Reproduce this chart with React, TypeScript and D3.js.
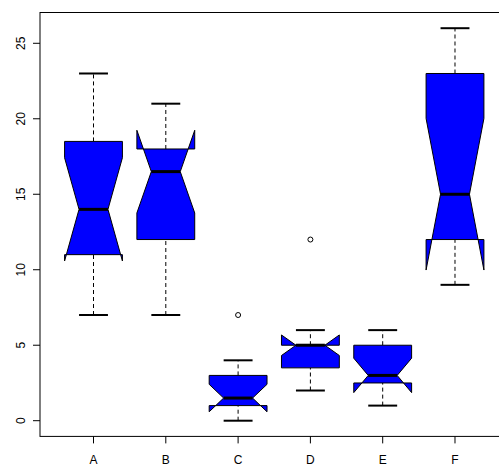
import { useEffect, useRef } from 'react';
import * as d3 from 'd3';

// Box statistics (InsectSprays-style counts)
const categories = ['A', 'B', 'C', 'D', 'E', 'F'];
const whiskerLow = [7, 7, 0, 2, 1, 9];
const q1 = [11, 12, 1, 3.5, 2.5, 12];
const median = [14, 16.5, 1.5, 5, 3, 15];
const q3 = [18.5, 18, 3, 5, 5, 23];
const whiskerHigh = [23, 21, 4, 6, 6, 26];
const notchLow = [10.58, 13.76, 0.59, 4.32, 1.86, 9.98];
const notchHigh = [17.42, 19.24, 2.41, 5.68, 4.14, 20.02];
const outliers = [
    { group: 'C', value: 7 },
    { group: 'D', value: 12 },
];
const yTicks = [0, 5, 10, 15, 20, 25];

export default function App() {
    const ref = useRef<SVGSVGElement>(null);

    useEffect(() => {
        if (!ref.current) return;
        const svg = d3.select(ref.current);
        svg.selectAll('*').remove();

        const left = 40;
        const right = 508.5;
        const top = 12.5;
        const bottom = 436.4;

        const x = d3.scaleLinear().domain([0.26, 6.74]).range([left, right]);
        const y = d3.scaleLinear().domain([-1.04, 27.04]).range([bottom, top]);
        const unit = x(1) - x(0);
        const halfW = (0.8 * unit) / 2;
        const capW = halfW / 2;
        const notchFrac = 0.5;
        const font = 'Liberation Sans, Arial, Helvetica, sans-serif';

        // frame
        svg.append('rect')
            .attr('x', left)
            .attr('y', top)
            .attr('width', right - left)
            .attr('height', bottom - top)
            .attr('fill', 'none')
            .attr('stroke', '#000')
            .attr('stroke-width', 1);

        categories.forEach((cat, i) => {
            const cx = x(i + 1);

            // whiskers
            svg.append('line')
                .attr('x1', cx).attr('x2', cx)
                .attr('y1', y(whiskerLow[i])).attr('y2', y(q1[i]))
                .attr('stroke', '#000').attr('stroke-dasharray', '4,3');
            svg.append('line')
                .attr('x1', cx).attr('x2', cx)
                .attr('y1', y(q3[i])).attr('y2', y(whiskerHigh[i]))
                .attr('stroke', '#000').attr('stroke-dasharray', '4,3');

            // staples
            [whiskerLow[i], whiskerHigh[i]].forEach((v) => {
                svg.append('line')
                    .attr('x1', cx - capW).attr('x2', cx + capW)
                    .attr('y1', y(v)).attr('y2', y(v))
                    .attr('stroke', '#000').attr('stroke-width', 2);
            });

            // notched box
            const pts: [number, number][] = [
                [cx - halfW, y(q1[i])],
                [cx + halfW, y(q1[i])],
                [cx + halfW, y(notchLow[i])],
                [cx + halfW * notchFrac, y(median[i])],
                [cx + halfW, y(notchHigh[i])],
                [cx + halfW, y(q3[i])],
                [cx - halfW, y(q3[i])],
                [cx - halfW, y(notchHigh[i])],
                [cx - halfW * notchFrac, y(median[i])],
                [cx - halfW, y(notchLow[i])],
            ];
            svg.append('path')
                .attr('d', (d3.line()(pts) as string) + 'Z')
                .attr('fill', '#0000ff')
                .attr('stroke', '#000')
                .attr('stroke-width', 1)
                .attr('stroke-linejoin', 'miter');

            // median
            svg.append('line')
                .attr('x1', cx - halfW * notchFrac).attr('x2', cx + halfW * notchFrac)
                .attr('y1', y(median[i])).attr('y2', y(median[i]))
                .attr('stroke', '#000').attr('stroke-width', 3);

            // x tick + label
            svg.append('line')
                .attr('x1', cx).attr('x2', cx)
                .attr('y1', bottom).attr('y2', bottom + 7)
                .attr('stroke', '#000');
            svg.append('text')
                .attr('x', cx).attr('y', 463.5)
                .attr('text-anchor', 'middle')
                .attr('font-family', font)
                .attr('font-size', 12)
                .text(cat);
        });

        // outliers
        outliers.forEach((o) => {
            const i = categories.indexOf(o.group);
            svg.append('circle')
                .attr('cx', x(i + 1)).attr('cy', y(o.value))
                .attr('r', 2.5)
                .attr('fill', 'none')
                .attr('stroke', '#000');
        });

        // y axis ticks
        yTicks.forEach((t) => {
            svg.append('line')
                .attr('x1', left - 7).attr('x2', left)
                .attr('y1', y(t)).attr('y2', y(t))
                .attr('stroke', '#000');
            svg.append('text')
                .attr('transform', `translate(25,${y(t)}) rotate(-90)`)
                .attr('text-anchor', 'middle')
                .attr('font-family', font)
                .attr('font-size', 12)
                .text(t);
        });
    }, []);

    return (
        <svg
            ref={ref}
            width={499}
            height={465}
            style={{ position: 'absolute', left: 0, top: 0, background: '#fff' }}
        />
    );
}
